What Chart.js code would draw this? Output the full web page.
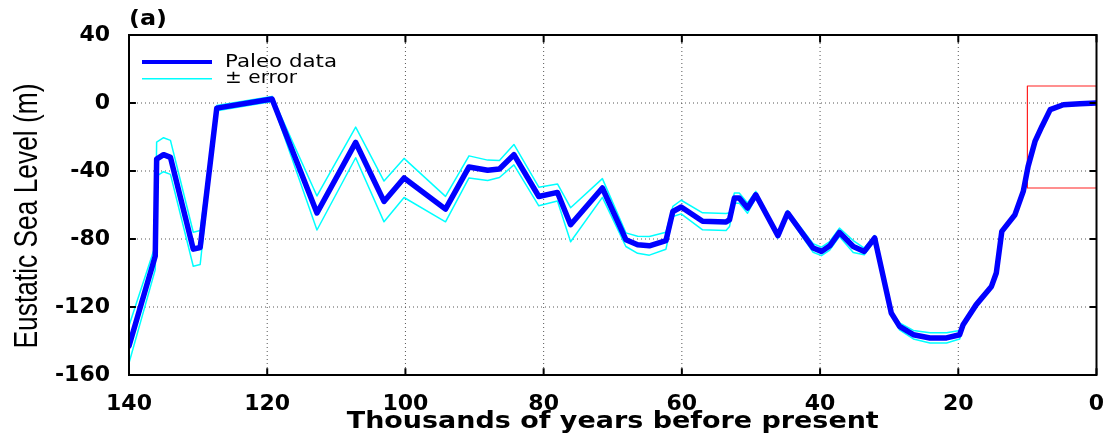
<!DOCTYPE html>
<html>
<head>
<meta charset="utf-8">
<script src="https://cdn.jsdelivr.net/npm/chart.js@4.4.1/dist/chart.umd.min.js"></script>
<style>
  html, body { margin: 0; padding: 0; background: #fff; }
  canvas { display: block; }
</style>
</head>
<body>
<canvas id="seaChart" width="1108" height="437"></canvas>
<script>
// thousands of years before present
let years = [140, 136.2, 136.0, 135.0, 134.0, 130.7, 129.7, 127.3, 119.3, 112.8,
    107.2, 103.1, 100.2, 94.2, 90.8, 88.1, 86.4, 84.3, 80.7, 78.0,
    76.1, 71.5, 68.1, 66.4, 64.7, 62.3, 61.3, 60.1, 57.0, 53.6,
    53.1, 52.4, 51.7, 50.5, 49.3, 46.1, 44.7, 41.0, 39.8, 38.6,
    37.2, 35.2, 33.6, 32.1, 29.7, 28.5, 26.5, 24.1, 21.7, 19.8,
    19.3, 17.4, 15.2, 14.5, 13.7, 11.8, 10.6, 9.9, 8.9, 7.9,
    6.7, 4.8, 2.4, 0]

// eustatic sea level (m)
let paleo = [-143, -90, -33, -30.4, -32, -86, -85, -3, 2.4, -64.7,
    -23.2, -57.9, -44.1, -62.4, -37.6, -39.6, -38.8, -30.4, -55, -52.6,
    -71.6, -50, -80.4, -83.4, -84, -81, -63.8, -61.2, -69.6, -70,
    -68.6, -55.9, -55.9, -61.8, -54, -78, -64.7, -85.3, -87.3, -84,
    -76.1, -84.4, -87.3, -79.4, -123.5, -131.4, -136.3, -138.2, -138.2, -136.3,
    -130.4, -118.6, -107.9, -100, -75.5, -65.7, -52, -37.3, -22.6, -13.8,
    -3.9, -1, -0.4, 0]

let errUpper = [-131, -84, -23, -20.4, -22, -76, -75, -1.5, 3.9, -54.7,
    -14.2, -45.9, -32.6, -54.9, -31.1, -33.6, -33.8, -24.4, -49.5, -47.6,
    -61.6, -44.5, -76.4, -78.4, -78.5, -76, -60.8, -57.2, -64.6, -65,
    -64.6, -52.9, -52.9, -58.8, -52, -76.5, -63.2, -82.8, -84.8, -81.5,
    -73.6, -80.9, -85.3, -77.9, -122.5, -129.4, -133.8, -135.2, -135.2, -133.8,
    -129.4, -117.6, -107.1, -99.5, -75, -65.2, -51.5, -36.8, -22.1, -13.3,
    -3.4, -0.6, -0.1, 0.3]

let errLower = [-153, -98, -43, -40.4, -42, -96, -95, -4.5, 0.9, -74.7,
    -32.2, -69.9, -55.6, -69.9, -44.1, -45.6, -43.8, -36.4, -60.5, -57.6,
    -81.6, -55.5, -84.4, -88.4, -89.5, -86, -66.8, -65.2, -74.6, -75,
    -72.6, -58.9, -58.9, -64.8, -56, -79.5, -66.2, -87.8, -89.8, -86.5,
    -78.6, -87.9, -89.3, -80.9, -124.5, -133.4, -138.8, -141.2, -141.2, -138.8,
    -131.4, -119.6, -108.7, -100.5, -76, -66.2, -52.5, -37.8, -23.1, -14.3,
    -4.4, -1.4, -0.7, -0.3]

// zoom box drawn in red
let boxX = [10, 10, 0, 0, 10]
let boxY = [-50, 10, 10, -50, -50]

let xTicks = [140, 120, 100, 80, 60, 40, 20, 0]
let yTicks = [40, 0, -40, -80, -120, -160]
let xMin = 0, xMax = 140, yMin = -160, yMax = 40

let color_paleo_blue = '#0000ff'
let color_error_cyan = '#00ffff'
let color_box_red = '#ff2020'

let toPoints = function (xs, ys) {
    return xs.map(function (x, i) { return { x: x, y: ys[i] } })
}

// axes furniture built from the tick lists, gaps split the segments
let gridPoints = []
xTicks.forEach(function (v) { gridPoints.push({ x: v, y: yMax }, { x: v, y: yMin }, { x: v, y: null }) })
yTicks.forEach(function (v) { gridPoints.push({ x: xMax, y: v }, { x: xMin, y: v }, { x: xMin, y: null }) })

let framePoints = [{ x: xMax, y: yMax }, { x: xMin, y: yMax }, { x: xMin, y: yMin }, { x: xMax, y: yMin }, { x: xMax, y: yMax }]

// matlab style inner ticks: 4 m long on the x axes, 1 kyr on the y axes
let tickPoints = []
xTicks.forEach(function (v) {
    tickPoints.push({ x: v, y: yMin }, { x: v, y: yMin + 4 }, { x: v, y: null })
    tickPoints.push({ x: v, y: yMax }, { x: v, y: yMax - 4 }, { x: v, y: null })
})
yTicks.forEach(function (v) {
    tickPoints.push({ x: xMax, y: v }, { x: xMax - 1, y: v }, { x: xMax, y: null })
    tickPoints.push({ x: xMin, y: v }, { x: xMin + 1, y: v }, { x: xMin, y: null })
})

// text squeezed/stretched to a given width (the original figure is not 1:1)
let stretchText = function (ctx, text, x, y, font, width, yScale, rot) {
    ctx.save()
    ctx.font = font
    let m = ctx.measureText(text).width
    ctx.translate(x, y)
    if (rot) ctx.rotate(rot)
    ctx.scale(width / m, yScale || 1)
    ctx.textAlign = 'center'
    ctx.textBaseline = 'middle'
    ctx.fillStyle = '#000'
    ctx.fillText(text, 0, 0)
    ctx.restore()
}

let labels = {
    id: 'labels',
    afterDraw: function (chart) {
        let ctx = chart.ctx
        let a = chart.chartArea
        ctx.save()
        ctx.fillStyle = color_paleo_blue
        ctx.fillRect(142, 60, 70, 4)
        ctx.fillStyle = color_error_cyan
        ctx.fillRect(142, 78, 70, 1.5)
        ctx.restore()
        stretchText(ctx, 'Paleo data', 281, 62, '18px "DejaVu Sans"', 112)
        stretchText(ctx, '\u00b1 error', 261, 78, '18px "DejaVu Sans"', 72)

        stretchText(ctx, '(a)', 148, 20, 'bold 21px "DejaVu Sans"', 38)
        stretchText(ctx, 'Thousands of years before present', (a.left + a.right) / 2, 422,
            'bold 23px "DejaVu Sans"', 532)
        stretchText(ctx, 'Eustatic Sea Level (m)', 28, 216, '25px "Liberation Sans"', 265, 1.35, -Math.PI / 2)
    }
}

let seaChartDraw = function () {
    let ctx = document.getElementById('seaChart').getContext('2d')

    window.seaChart = new Chart(ctx, {
        type: 'line',
        data: {
            datasets: [{
                label: 'frame',
                data: framePoints,
                borderColor: '#000',
                borderWidth: 2,
                borderCapStyle: 'square',
                borderJoinStyle: 'miter',
                clip: 4,
                order: -2
            }, {
                label: 'ticks',
                data: tickPoints,
                borderColor: '#000',
                borderWidth: 2,
                borderCapStyle: 'butt',
                spanGaps: false,
                clip: 4,
                order: -1
            }, {
                label: 'Paleo data',
                data: toPoints(years, paleo),
                borderColor: color_paleo_blue,
                borderWidth: 5.5,
                order: 0
            }, {
                label: 'zoom box',
                data: toPoints(boxX, boxY),
                borderColor: color_box_red,
                borderWidth: 1.2,
                order: 1
            }, {
                label: '\u00b1 error',
                data: toPoints(years, errUpper),
                borderColor: color_error_cyan,
                borderWidth: 1.5,
                order: 2
            }, {
                label: 'lower error',
                data: toPoints(years, errLower),
                borderColor: color_error_cyan,
                borderWidth: 1.5,
                order: 2
            }, {
                label: 'grid',
                data: gridPoints,
                borderColor: '#555',
                borderWidth: 1,
                borderDash: [1, 3],
                borderCapStyle: 'butt',
                spanGaps: false,
                order: 10
            }]
        },
        options: {
            responsive: false,
            animation: false,
            elements: {
                point: { radius: 0 },
                line: { tension: 0, borderJoinStyle: 'round', borderCapStyle: 'round' }
            },
            layout: { padding: { left: 0, right: 11.5, top: 35, bottom: 0 } },
            plugins: {
                legend: { display: false },
                tooltip: { enabled: false }
            },
            scales: {
                x: {
                    type: 'linear',
                    reverse: true,
                    min: xMin,
                    max: xMax,
                    afterBuildTicks: function (s) { s.ticks = xTicks.map(function (v) { return { value: v } }) },
                    afterFit: function (s) { s.height = 62; s.paddingLeft = 0; s.paddingRight = 0 },
                    grid: { display: false },
                    border: { display: false },
                    ticks: {
                        padding: 8,
                        color: '#000',
                        maxRotation: 0,
                        font: { family: 'DejaVu Sans', weight: 'bold', size: 22 }
                    }
                },
                y: {
                    min: yMin,
                    max: yMax,
                    afterBuildTicks: function (s) { s.ticks = yTicks.map(function (v) { return { value: v } }) },
                    afterFit: function (s) { s.width = 129; s.paddingTop = 0; s.paddingBottom = 0 },
                    grid: { display: false },
                    border: { display: false },
                    ticks: {
                        padding: 11,
                        color: '#000',
                        font: { family: 'DejaVu Sans', weight: 'bold', size: 22 }
                    }
                }
            }
        },
        plugins: [labels]
    })
}

window.addEventListener('load', function () {
    seaChartDraw()
})
</script>
</body>
</html>
